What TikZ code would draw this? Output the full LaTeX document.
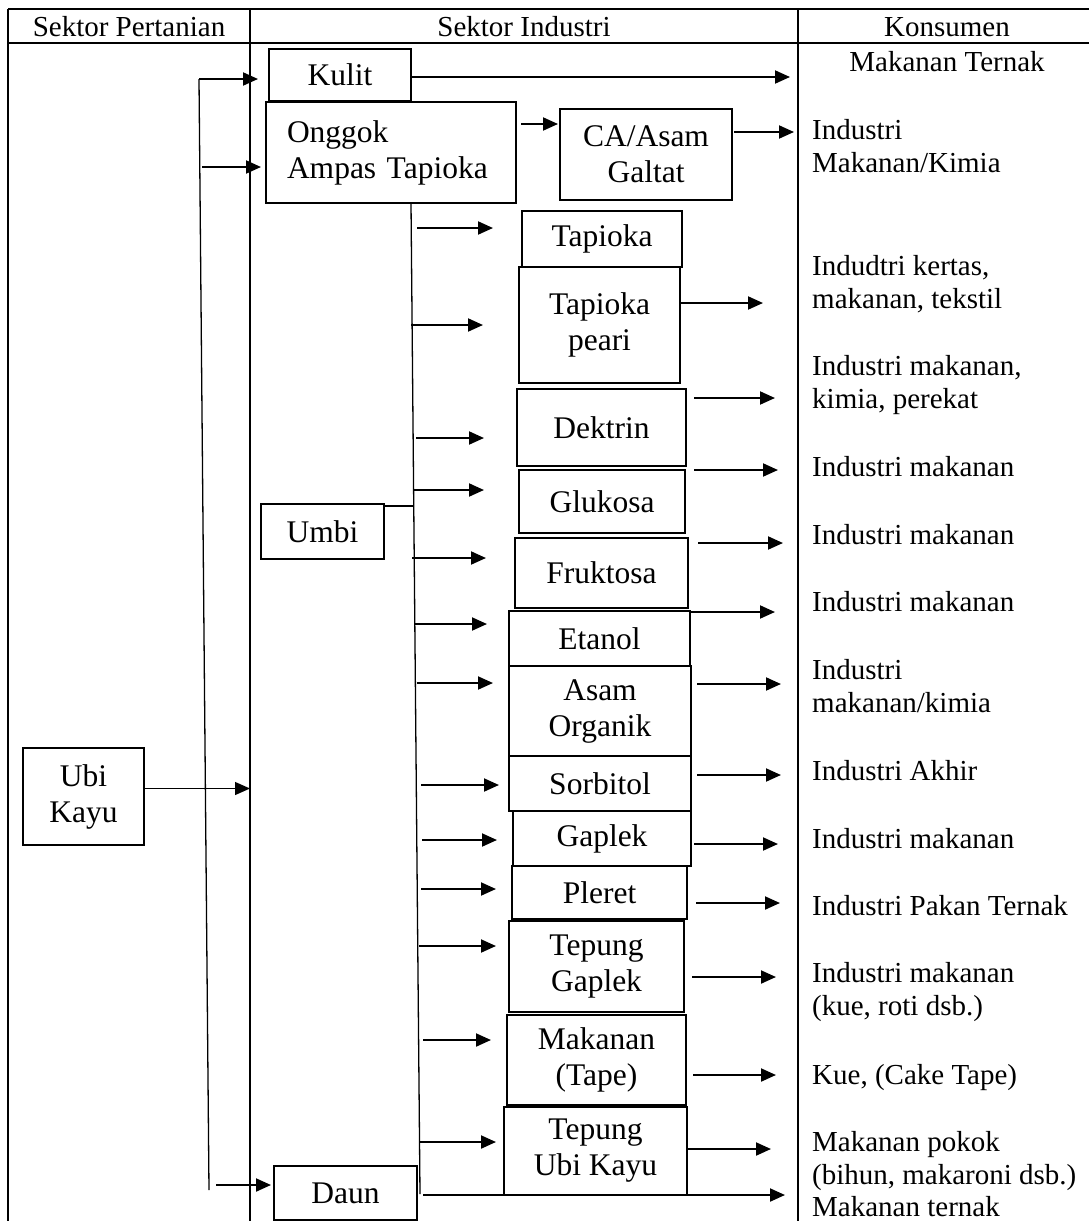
\documentclass[tikz,border=0pt]{standalone}
\usepackage{fontspec}
\setmainfont{Liberation Serif}
\usetikzlibrary{positioning,arrows.meta}

\newcommand{\boxfont}{\fontsize{31.5}{36}\selectfont}
\newcommand{\konsfont}{\fontsize{29}{33}\selectfont}

\tikzset{
  box/.style={rectangle,draw,line width=1.3pt,outer sep=0pt,inner sep=2pt,align=center,font=\boxfont},
  arr/.style={-{Triangle[length=15pt,width=13pt]},line width=2pt},
  grid/.style={line width=2pt},
  spine/.style={line width=1.3pt},
  head/.style={anchor=base,inner sep=0pt,font=\konsfont},
  kons/.style={anchor=north west,inner sep=0pt,align=left,font=\konsfont},
}

\begin{document}
\begin{tikzpicture}[x=1pt,y=-1pt]
\useasboundingbox (0,0) rectangle (1089,1221);

\coordinate (colA) at (250,9);
\coordinate (colB) at (798,9);
\draw[grid] (8,9) -- (1089,9);
\draw[grid] (8,43) -- (1089,43);
\draw[grid] (8,9) -- (8,1221);
\draw[grid] (colA) -- (250,1221);
\draw[grid] (colB) -- (798,1221);

\node[head] (hpert) at (129,36) {Sektor Pertanian};
\node[head] (hind) at (524,36) {Sektor Industri};
\node[head] (hkons) at (947,36) {Konsumen};

\node[box,minimum width=121pt,minimum height=97pt] (ubikayu) at (83.5,796.5) {Ubi\\Kayu};

\node[box,minimum width=142pt,minimum height=52pt] (kulit) at (340,75) {Kulit};
\node[box,minimum width=250pt,minimum height=101pt,text width=208pt,align=left,inner xsep=21pt,below=1pt of kulit,xshift=51pt] (onggok) {Onggok\\Ampas Tapioka};
\node[box,minimum width=172pt,minimum height=91pt,right=44pt of onggok,yshift=-2pt] (ca) {CA/Asam\\Galtat};
\node[box,minimum width=123pt,minimum height=55pt] (umbi) at (322.5,531.5) {Umbi};
\node[box,minimum width=143pt,minimum height=54pt] (daun) at (345.5,1193) {Daun};

\node[box,minimum width=160pt,minimum height=56pt,below=11pt of ca,xshift=-44pt] (tapioka) {Tapioka};
\node[box,minimum width=161pt,minimum height=116pt,below=0pt of tapioka,xshift=-2.5pt] (peari) {Tapioka\\peari};
\node[box,minimum width=169pt,minimum height=77pt,below=6pt of peari,xshift=2pt] (dektrin) {Dektrin};
\node[box,minimum width=166pt,minimum height=63pt,below=4pt of dektrin,xshift=0.5pt] (glukosa) {Glukosa};
\node[box,minimum width=173pt,minimum height=70pt,below=5pt of glukosa,xshift=-0.5pt] (fruktosa) {Fruktosa};
\node[box,minimum width=181pt,minimum height=55pt,below=3pt of fruktosa,xshift=-2pt] (etanol) {Etanol};
\node[box,minimum width=182pt,minimum height=90pt,below=0pt of etanol,xshift=0.5pt] (asam) {Asam\\Organik};
\node[box,minimum width=182pt,minimum height=55pt,below=0pt of asam] (sorbitol) {Sorbitol};
\node[box,minimum width=178pt,minimum height=55pt,below=0pt of sorbitol,xshift=2pt] (gaplek) {Gaplek};
\node[box,minimum width=175pt,minimum height=53pt,below=0pt of gaplek,xshift=-2.5pt] (pleret) {Pleret};
\node[box,minimum width=175pt,minimum height=91pt,below=2pt of pleret,xshift=-3pt] (tgaplek) {Tepung\\Gaplek};
\node[box,minimum width=179pt,minimum height=90pt,below=3pt of tgaplek] (tape) {Makanan\\(Tape)};
\node[box,minimum width=183pt,minimum height=88pt,below=2pt of tape,xshift=-1pt] (tubikayu) {Tepung\\Ubi Kayu};

\node[head] (kmt) at (947,71) {Makanan Ternak};
\node[kons] (kkimia) at (812,119) {Industri\\Makanan/Kimia};
\node[kons] (kkertas) at (812,255) {Indudtri kertas,\\makanan, tekstil};
\node[kons] (kperekat) at (812,355) {Industri makanan,\\kimia, perekat};
\node[kons] (kmakA) at (812,456) {Industri makanan};
\node[kons] (kmakB) at (812,524) {Industri makanan};
\node[kons] (kmakC) at (812,591) {Industri makanan};
\node[kons] (korganik) at (812,659) {Industri\\makanan/kimia};
\node[kons] (kakhir) at (812,760) {Industri Akhir};
\node[kons] (kmakD) at (812,828) {Industri makanan};
\node[kons] (kpakan) at (812,895) {Industri Pakan Ternak};
\node[kons] (kkue) at (812,962) {Industri makanan\\(kue, roti dsb.)};
\node[kons] (ktape) at (812,1064) {Kue, (Cake Tape)};
\node[kons] (kpokok) at (812,1131) {Makanan pokok\\(bihun, makaroni dsb.)};
\node[kons] (kternak) at (812,1196) {Makanan ternak};

\coordinate (pa) at (199,79);
\coordinate (pb) at (209,1190);
\draw[spine] (pa) -- (pb);
\draw[arr,shorten >=11pt] (pa) -- (pa -| kulit.west);
\coordinate (pc) at (202,167);
\draw[arr,shorten >=5pt] (pc) -- (pc -| onggok.west);
\coordinate (ukout) at ([yshift=8pt]ubikayu.east);
\draw[arr,line width=1.3pt] (ukout) -- (ukout -| colA);
\coordinate (pd) at (216,1185);
\draw[arr,shorten >=3pt] (pd) -- (pd -| daun.west);

\coordinate (ia) at ([xshift=20pt]onggok.south);
\coordinate (ib) at (420,1194);
\draw[spine] (ia) -- (ib);
\draw[spine] ([yshift=-2pt]umbi.north east) -- +(30,0);

\foreach \p/\sx/\y/\g in {tapioka/417/228/29,peari/411/325/36,dektrin/416/438/33,glukosa/413/490/35,fruktosa/412/558/29,etanol/415/624/22,asam/417/683/16,sorbitol/421/785/10,gaplek/422/840/16,pleret/421/889/16,tgaplek/419/946/13,tape/423/1040/16,tubikayu/420/1142/8}
{
  \coordinate (s) at (\sx,\y);
  \draw[arr,shorten >=\g pt] (s) -- (s -| \p.west);
}

\foreach \p/\k/\y/\a/\b in {peari/kkertas/303/1/49,dektrin/kperekat/398/8/37,glukosa/kmakA/470/9/34,fruktosa/kmakB/543/10/29,etanol/kmakC/612/0/37,asam/korganik/684/6/31,sorbitol/kakhir/775/6/31,gaplek/kmakD/844/3/34,pleret/kpakan/903/9/32,tgaplek/kkue/977/8/36,tape/ktape/1075/7/36,tubikayu/kpokok/1149/0/41}
{
  \coordinate (r) at (0,\y);
  \draw[arr,shorten <=\a pt,shorten >=\b pt] (\p.east |- r) -- (\k.west |- r);
}

\coordinate (ka) at (0,77);
\draw[arr,shorten >=8pt] (kulit.east |- ka) -- (colB |- ka);
\coordinate (oa) at (0,124);
\draw[arr,shorten <=5pt,shorten >=2pt] (onggok.east |- oa) -- (ca.west |- oa);
\coordinate (cb) at (0,132);
\draw[arr,shorten <=2pt,shorten >=18pt] (ca.east |- cb) -- (kkimia.west |- cb);
\coordinate (da) at (0,1195);
\draw[arr,shorten <=6pt,shorten >=27pt] (daun.east |- da) -- (kternak.west |- da);

\end{tikzpicture}
\end{document}
